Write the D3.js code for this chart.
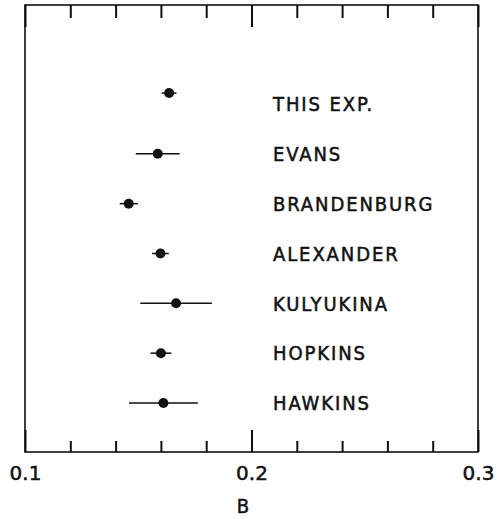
<!DOCTYPE html>
<html>
<head>
<meta charset="utf-8">
<script src="https://cdn.jsdelivr.net/npm/d3@7"></script>
<style>
  body { margin: 0; background: #fff; }
  svg text { font-family: "DejaVu Sans Condensed", "DejaVu Sans", sans-serif; fill: #111; stroke: #111; stroke-width: 0.5px; }
  .axis .domain { display: none; }
  .axis line { stroke: #111; stroke-width: 2; }
</style>
</head>
<body>
<svg id="chart" width="497" height="519"></svg>
<script>
const experiments = ["THIS EXP.", "EVANS", "BRANDENBURG", "ALEXANDER", "KULYUKINA", "HOPKINS", "HAWKINS"];
const bValues = [0.1636, 0.1586, 0.1458, 0.1598, 0.1667, 0.1600, 0.1611];
const bErrors = [0.0033, 0.0097, 0.0040, 0.0037, 0.0158, 0.0046, 0.0152];
// row of each point (the first point sits slightly above its label)
const pointRows = [-0.22, 1, 2, 3, 4, 5, 6];
const majorTicks = [0.1, 0.2, 0.3];
const minorTicks = [0.12, 0.14, 0.16, 0.18, 0.22, 0.24, 0.26, 0.28];

const svg = d3.select("#chart");
const frame = { left: 25, right: 478, top: 5, bottom: 452 };

const x = d3.scaleLinear().domain([0.1, 0.3]).range([frame.left, frame.right]);
const y = d3.scaleLinear().domain([0, 6]).range([104, 403]);

// frame
svg.append("rect")
  .attr("x", frame.left)
  .attr("y", frame.top)
  .attr("width", frame.right - frame.left)
  .attr("height", frame.bottom - frame.top)
  .attr("fill", "none")
  .attr("stroke", "#111")
  .attr("stroke-width", 1.6);

// bottom ticks (pointing inward)
svg.append("g")
  .attr("class", "axis")
  .attr("transform", `translate(0,${frame.bottom})`)
  .call(d3.axisBottom(x).tickValues(minorTicks).tickSize(-11).tickFormat(""));

svg.append("g")
  .attr("class", "axis")
  .attr("transform", `translate(0,${frame.bottom})`)
  .call(d3.axisBottom(x).tickValues(majorTicks).tickSize(-22).tickPadding(0).tickFormat(d3.format(".1f")))
  .call((g) => g.selectAll("text")
    .attr("y", 28)
    .attr("dy", 0)
    .style("font-size", "20px")
    .style("font-family", "DejaVu Sans, sans-serif"));

// top ticks
svg.append("g")
  .attr("class", "axis")
  .attr("transform", `translate(0,${frame.top})`)
  .call(d3.axisTop(x).tickValues(minorTicks).tickSize(-13).tickFormat(""));

svg.append("g")
  .attr("class", "axis")
  .attr("transform", `translate(0,${frame.top})`)
  .call(d3.axisTop(x).tickValues(majorTicks).tickSize(-22).tickFormat(""));

// axis title
svg.append("text")
  .attr("x", 243)
  .attr("y", 513)
  .attr("text-anchor", "middle")
  .style("font-size", "20px")
  .text("B");

const rows = experiments.map((name, i) => ({
  name,
  value: bValues[i],
  err: bErrors[i],
  row: pointRows[i],
  labelRow: i,
}));

// error bars
svg.append("g")
  .selectAll("line")
  .data(rows)
  .join("line")
  .attr("x1", (d) => x(d.value - d.err))
  .attr("x2", (d) => x(d.value + d.err))
  .attr("y1", (d) => y(d.row))
  .attr("y2", (d) => y(d.row))
  .attr("stroke", "#111")
  .attr("stroke-width", 1.5);

// points
svg.append("g")
  .selectAll("circle")
  .data(rows)
  .join("circle")
  .attr("cx", (d) => x(d.value))
  .attr("cy", (d) => y(d.row))
  .attr("r", 5)
  .attr("fill", "#111");

// labels
svg.append("g")
  .selectAll("text")
  .data(rows)
  .join("text")
  .attr("x", 273)
  .attr("y", (d) => y(d.labelRow))
  .attr("dy", "0.36em")
  .style("font-size", "20px")
  .style("letter-spacing", "1.9px")
  .text((d) => d.name);
</script>
</body>
</html>
